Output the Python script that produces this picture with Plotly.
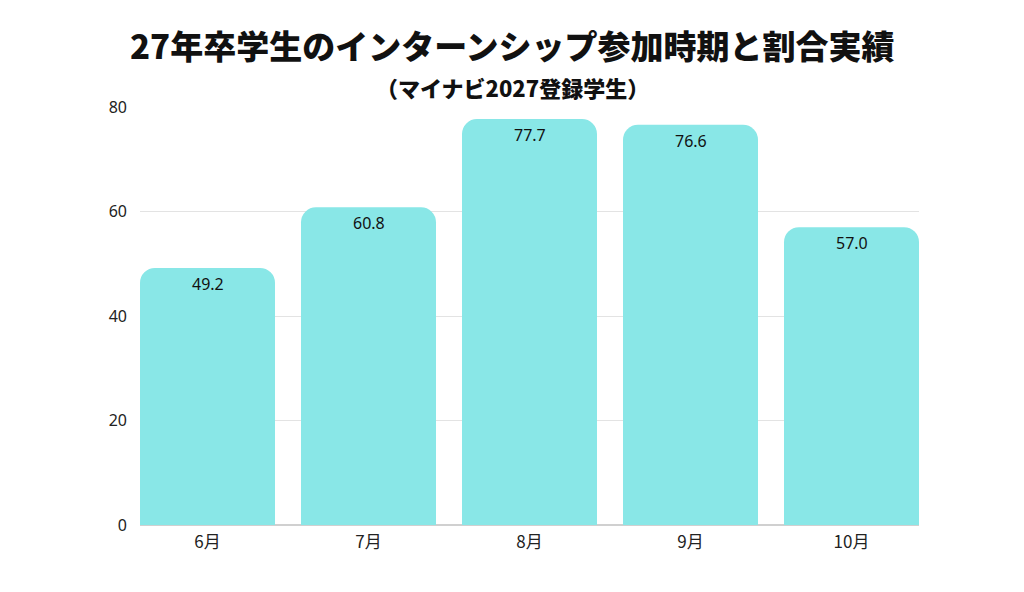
import plotly.graph_objects as go

categories = ["6月", "7月", "8月", "9月", "10月"]
values = [49.2, 60.8, 77.7, 76.6, 57.0]
y_ticks = [0, 20, 40, 60, 80]

title_text = "27年卒学生のインターンシップ参加時期と割合実績"
subtitle_text = "（マイナビ2027登録学生）"

bar_w = 135 / 161
xs = list(range(len(categories)))

fig = go.Figure()
fig.add_trace(go.Bar(
    x=xs,
    y=values,
    width=bar_w,
    marker=dict(color="#89E7E7", line=dict(width=0)),
    hoverinfo="skip",
))

label_font = dict(family="Noto Sans, Open Sans, sans-serif", size=16, color="#111111")
annotations = [
    dict(x=x, y=v, xref="x", yref="y", text=f"{v:.1f}", showarrow=False,
         xanchor="center", yanchor="top", yshift=-3, font=label_font)
    for x, v in zip(xs, values)
]

plot_h = 592 - 107 - 67
cx = (512 - 140) / 779
annotations += [
    dict(text=title_text, x=cx, xref="paper", xanchor="center",
         y=(592 - 67 - 45) / plot_h, yref="paper", yanchor="middle", showarrow=False,
         font=dict(family="Noto Sans CJK JP", size=33, color="#111111", weight=900)),
    dict(text=subtitle_text, x=cx, xref="paper", xanchor="center",
         y=(592 - 67 - 87) / plot_h, yref="paper", yanchor="middle", showarrow=False,
         font=dict(family="Noto Sans CJK JP", size=22, color="#111111", weight=900)),
]

fig.update_layout(
    width=1024, height=592,
    margin=dict(l=140, r=105, t=107, b=67),
    paper_bgcolor="white", plot_bgcolor="white",
    showlegend=False,
    barcornerradius=15,
    annotations=annotations,
)

fig.update_xaxes(
    range=[-bar_w / 2, len(categories) - 1 + bar_w / 2],
    tickmode="array",
    tickvals=xs,
    ticktext=categories,
    showgrid=False, zeroline=False, showline=False,
    ticks="", ticklabelstandoff=5,
    tickfont=dict(family="Noto Sans CJK JP", size=17, color="#222222"),
)
fig.update_yaxes(
    range=[0, 80],
    tickmode="array", tickvals=y_ticks,
    showgrid=True, gridcolor="#e3e3e3", gridwidth=1,
    zeroline=True, zerolinecolor="#d0d0d0", zerolinewidth=2,
    showline=False, ticks="", ticklabelstandoff=12,
    tickfont=dict(family="Noto Sans, Open Sans, sans-serif", size=16, color="#222222"),
)

fig.write_html("out.html")
